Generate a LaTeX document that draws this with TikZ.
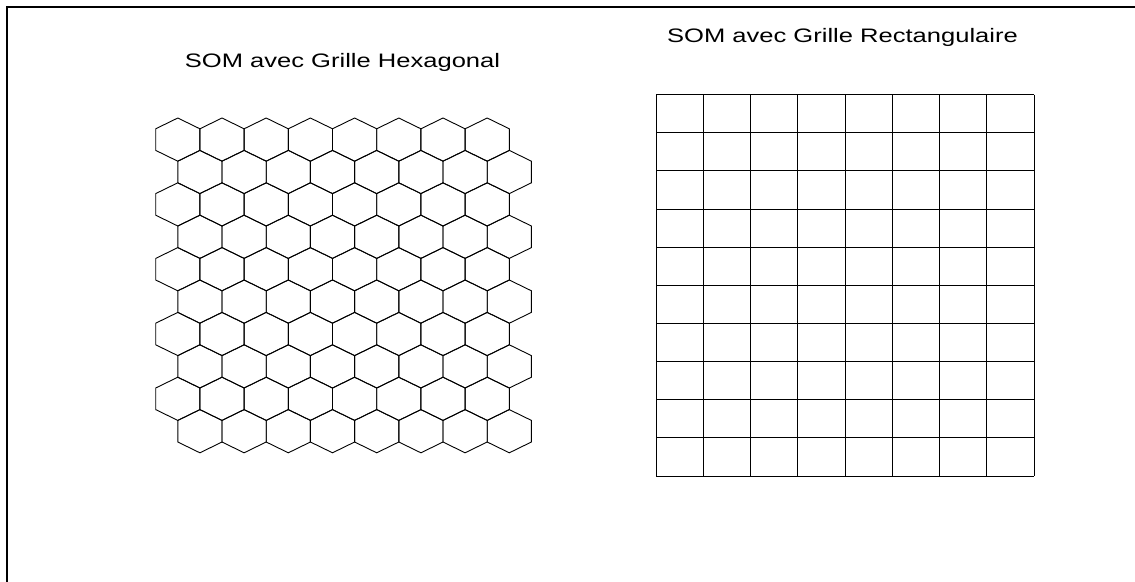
\documentclass[tikz,border=0pt]{standalone}
\usepackage{fontspec}
\setmainfont{Liberation Sans}
\usepackage{tikz}
\usetikzlibrary{positioning}

\begin{document}
\begin{tikzpicture}[x=1pt, y=-1pt,
    hexcell/.style={draw=black, line width=0.9pt, line join=miter},
    gridline/.style={draw=black, line width=1pt},
    titletext/.style={font=\fontsize{19.5}{23}\selectfont, anchor=base, xscale=1.31, inner sep=0pt},
    framerule/.style={draw=black, line width=2pt}]
    \useasboundingbox (0,0) rectangle (1135,581);

    %% Frame (top and left edges)
    \draw[framerule] (6.5,590) -- (6.5,6.5) -- (1140,6.5);

    %% LEFT PANEL: hexagonal SOM grid
    \node[titletext] (hextitle) at (342.5,67.3) {SOM avec Grille Hexagonal};
    \begin{scope}[shift={(177.8,139.6)}]
      \foreach \r in {0,...,9} {
        \foreach \c in {0,...,7} {
          \pgfmathsetmacro{\cx}{44.2*\c + 22.1*mod(\r,2)}
          \pgfmathsetmacro{\cy}{32.4*\r}
          \draw[hexcell] (\cx,\cy-21.6) -- (\cx+22.1,\cy-10.8) -- (\cx+22.1,\cy+10.8)
            -- (\cx,\cy+21.6) -- (\cx-22.1,\cy+10.8) -- (\cx-22.1,\cy-10.8) -- cycle;
        }
      }
    \end{scope}

    %% RIGHT PANEL: rectangular SOM grid
    \node[titletext] (recttitle) at (842.5,42.3) {SOM avec Grille Rectangulaire};
    \begin{scope}[shift={(656,94.7)}]
      \foreach \c in {0,...,8}
        \draw[gridline] ({47.25*\c},0) -- ({47.25*\c},381.3);
      \foreach \r in {0,...,10}
        \draw[gridline] (0,{38.13*\r}) -- (378,{38.13*\r});
    \end{scope}
  \end{tikzpicture}
\end{document}
